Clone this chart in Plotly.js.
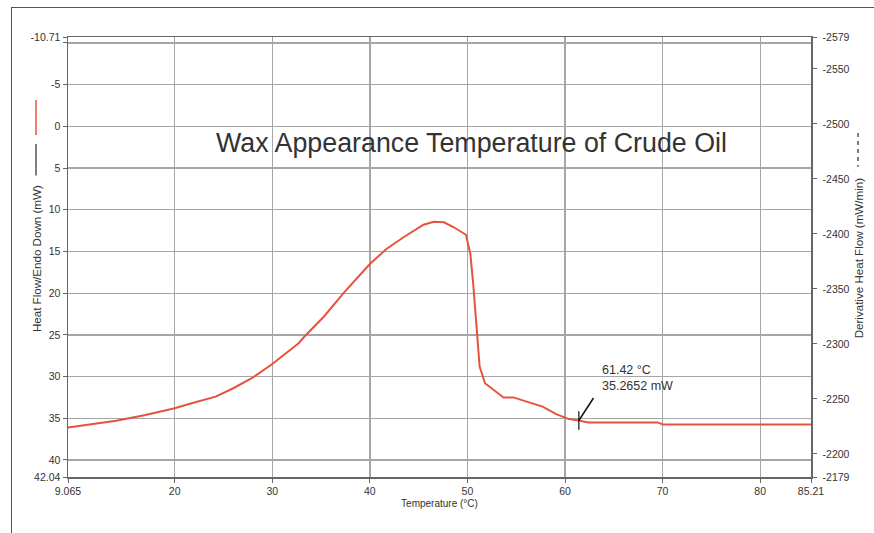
<!DOCTYPE html>
<html>
<head>
<meta charset="utf-8">
<script src="https://cdn.plot.ly/plotly-3.0.1.min.js"></script>
<style>
  html, body { margin: 0; padding: 0; background: #fff; }
  #wrap { position: relative; width: 874px; height: 533px; }
  #chart { position: absolute; left: 0; top: 0; width: 874px; height: 533px; }
  #frame { position: absolute; left: 11px; top: 7px; width: 870px; height: 530px;
           border-left: 1.5px solid #555; border-top: 1.5px solid #555; pointer-events: none; }
</style>
</head>
<body>
<div id="wrap">
  <div id="chart"></div>
  <div id="frame"></div>
</div>
<script>
// Data
const temperature = [9.065, 12.0, 14.0, 17.0, 20.0, 22.0, 24.2, 26.0, 27.9, 30.0, 32.7, 33.3, 35.3, 37.3,
  40.0, 41.7, 43.45, 45.5, 46.55, 47.6, 48.6, 49.85, 50.3, 50.6, 50.95, 51.25, 51.8, 52.7, 53.7,
  54.7, 56.0, 57.7, 59.1, 60.4, 61.42, 62.4, 69.5, 70.0, 85.21];
const heatFlow = [36.1, 35.6, 35.3, 34.6, 33.8, 33.1, 32.4, 31.4, 30.2, 28.5, 26.0, 25.2, 22.8, 20.0,
  16.5, 14.7, 13.3, 11.8, 11.43, 11.5, 12.1, 13.0, 15.3, 19.0, 24.5, 28.8, 30.8, 31.6, 32.5,
  32.5, 33.0, 33.6, 34.5, 35.1, 35.27, 35.5, 35.5, 35.75, 35.75];

const xTickVals = [9.065, 20, 30, 40, 50, 60, 70, 80, 85.21];
const xTickText = ['9.065', '20', '30', '40', '50', '60', '70', '80', '85.21'];
const yTickVals = [-10.71, -10, -5, 0, 5, 10, 15, 20, 25, 30, 35, 40, 42.04];
const yTickText = ['-10.71', '', '-5', '0', '5', '10', '15', '20', '25', '30', '35', '40', '42.04'];
const y2TickVals = [-2579, -2550, -2500, -2450, -2400, -2350, -2300, -2250, -2200, -2179];
const y2TickText = ['-2579', '-2550', '-2500', '-2450', '-2400', '-2350', '-2300', '-2250', '-2200', '-2179'];

const markerX = 61.42;
const markerY = 35.2652;
const markerLabel = '61.42 °C<br>35.2652 mW';

const chartTitle = 'Wax Appearance Temperature of Crude Oil';
const xTitle = 'Temperature (°C)';
const yTitle = 'Heat Flow/Endo Down (mW)';
const y2Title = 'Derivative Heat Flow (mW/min)';

const FONT = 'Liberation Sans, Arial, sans-serif';
const tickFont = { family: FONT, size: 10.5, color: '#333' };

const traces = [
  { x: temperature, y: heatFlow, type: 'scatter', mode: 'lines',
    line: { color: '#e5533d', width: 2 }, hoverinfo: 'skip', showlegend: false },
  // derivative signal axis (no visible curve in the reference)
  { x: [], y: [], type: 'scatter', mode: 'lines', yaxis: 'y2', showlegend: false, hoverinfo: 'skip',
    line: { color: '#555', dash: 'dash', width: 1 } }
];

const axisCommon = {
  showline: true, linecolor: '#666', linewidth: 1.5,
  ticks: 'outside', ticklen: 4, tickcolor: '#666', tickwidth: 1,
  tickfont: tickFont, zeroline: false, tickmode: 'array'
};

const layout = {
  width: 874, height: 533,
  margin: { l: 68, r: 63, t: 37, b: 56 },
  paper_bgcolor: 'rgba(0,0,0,0)', plot_bgcolor: '#fff',
  showlegend: false,
  xaxis: Object.assign({}, axisCommon, {
    range: [9.065, 85.21], tickvals: xTickVals, ticktext: xTickText,
    showgrid: true, gridcolor: '#a6a6a6', gridwidth: 1.3, mirror: true,
    title: { text: xTitle, font: { family: FONT, size: 10, color: '#333' }, standoff: 4 }
  }),
  yaxis: Object.assign({}, axisCommon, {
    range: [42.04, -10.71], tickvals: yTickVals, ticktext: yTickText,
    showgrid: true, gridcolor: '#a6a6a6', gridwidth: 1.3
  }),
  yaxis2: Object.assign({}, axisCommon, {
    overlaying: 'y', side: 'right', range: [-2179, -2579], autorange: false,
    tickvals: y2TickVals, ticktext: y2TickText, showgrid: false, ticklabelstandoff: 4
  }),
  annotations: [
    { text: chartTitle, xref: 'paper', yref: 'paper', x: 0.5424, y: 0.759, xanchor: 'center', yanchor: 'middle',
      showarrow: false, font: { family: FONT, size: 26.8, color: '#333' } },
    { text: yTitle, xref: 'paper', yref: 'paper', x: -0.042, y: 0.497, textangle: -90,
      xanchor: 'center', yanchor: 'middle', showarrow: false, font: { family: FONT, size: 11.6, color: '#333' } },
    { text: y2Title, xref: 'paper', yref: 'paper', x: 1.0633, y: 0.497, textangle: -90,
      xanchor: 'center', yanchor: 'middle', showarrow: false, font: { family: FONT, size: 11.6, color: '#333' } },
    { text: markerLabel, xref: 'x', yref: 'y', x: markerX, y: markerY, ax: 21, ay: -42,
      xanchor: 'left', yanchor: 'middle', align: 'left', showarrow: true, arrowwidth: 0.01, arrowcolor: 'rgba(0,0,0,0)',
      font: { family: FONT, size: 12.5, color: '#333' } }
  ],
  shapes: [
    // leader line and vertical tick at the marked point
    { type: 'line', xref: 'x', yref: 'y', x0: markerX, y0: markerY, x1: markerX + 1.5, y1: markerY - 2.7,
      line: { color: '#111', width: 1.5 } },
    { type: 'line', xref: 'x', yref: 'y', x0: markerX, y0: markerY - 1.1, x1: markerX, y1: markerY + 1.1,
      line: { color: '#111', width: 1.2 } },
    // axis legend swatches
    { type: 'line', xref: 'paper', yref: 'paper', x0: -0.0431, x1: -0.0431, y0: 0.857, y1: 0.777,
      line: { color: '#e5533d', width: 1.5 } },
    { type: 'line', xref: 'paper', yref: 'paper', x0: -0.0431, x1: -0.0431, y0: 0.757, y1: 0.685,
      line: { color: '#555', width: 1.5 } },
    { type: 'line', xref: 'paper', yref: 'paper', x0: 1.0633, x1: 1.0633, y0: 0.782, y1: 0.705,
      line: { color: '#555', width: 1.5, dash: '4px,4px' } }
  ]
};

Plotly.newPlot('chart', traces, layout, { staticPlot: true, displayModeBar: false });
</script>
</body>
</html>
